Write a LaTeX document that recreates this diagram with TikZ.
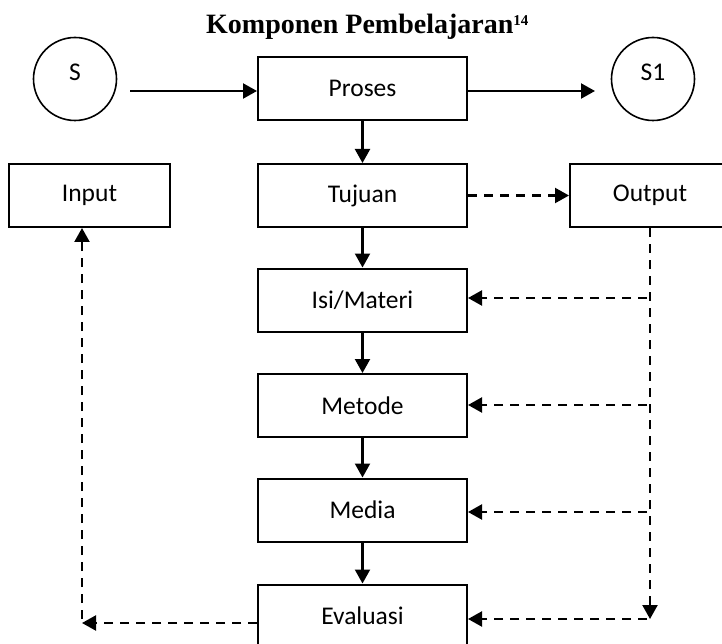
\documentclass[tikz,border=0pt]{standalone}
\usepackage{fontspec}
\setmainfont{Carlito}
\newfontfamily\titlefont{Liberation Serif}
\usetikzlibrary{arrows.meta}
\begin{document}
\begin{tikzpicture}[x=1pt,y=-1pt,
  box/.style={draw, line width=2pt, minimum height=63pt, inner sep=0pt, font=\fontsize{25.5}{30}\selectfont},
  midbox/.style={box, minimum width=209pt},
  circ/.style={draw, circle, line width=1.6pt, minimum size=83pt, inner sep=0pt},
  lbl/.style={font=\fontsize{25.5}{30}\selectfont, inner sep=0pt},
  solidarrow/.style={line width=2.2pt, -{Triangle[length=14pt,width=15pt]}},
  dasharrow/.style={line width=2.2pt, dash pattern=on 9pt off 7pt, -{Triangle[length=14pt,width=15pt]}}]
\useasboundingbox (0,0) rectangle (722,644);
\fill[white] (0,0) rectangle (722,644);

% title
\node[anchor=base west, inner sep=0pt, font=\titlefont\bfseries\fontsize{28}{32}\selectfont] (title) at (206,34)
  {Komponen Pembelajaran\raisebox{8pt}{\fontsize{15}{17}\selectfont 14}};

% circles
\node[circ] (s) at (75,79) {};
\node[lbl] (stext) at (75,72.5) {S};
\node[circ] (s1) at (653,79) {};
\node[lbl] (s1text) at (653,72.5) {S1};

% boxes
\node[midbox] (proses) at (362.5,88.5) {Proses};
\node[midbox] (tujuan) at (362.5,195.5) {Tujuan};
\node[midbox] (isi) at (362.5,300) {Isi/Materi};
\node[midbox] (metode) at (362.5,405.5) {Metode};
\node[midbox] (media) at (362.5,510) {Media};
\node[midbox] (eval) at (362.5,616) {Evaluasi};
\node[box, minimum width=161pt] (input) at (89.5,195.5) {Input};
\node[box, minimum width=160pt] (output) at (650,195.5) {Output};

% solid arrows
\coordinate (sa) at (130,91);
\draw[solidarrow] (sa) -- (sa -| proses.west);
\coordinate (s1a) at (595,91);
\draw[solidarrow] (proses.east |- s1a) -- (s1a);
\draw[solidarrow] (proses) -- (tujuan);
\draw[solidarrow] (tujuan) -- (isi);
\draw[solidarrow] (isi) -- (metode);
\draw[solidarrow] (metode) -- (media);
\draw[solidarrow] (media) -- (eval);

% dashed arrows
\draw[dasharrow] (tujuan.east) -- (output.west);
\coordinate (rb) at (650,619);
\draw[dasharrow] (output.south) -- (rb);
\coordinate (r1) at (647,298);
\coordinate (r2) at (647,405);
\coordinate (r3) at (647,512);
\coordinate (r4) at (647,619);
\draw[dasharrow] (r1) -- (r1 -| isi.east);
\draw[dasharrow] (r2) -- (r2 -| metode.east);
\draw[dasharrow] (r3) -- (r3 -| media.east);
\draw[dasharrow] (r4) -- (r4 -| eval.east);
\coordinate (l1) at (82,623);
\draw[dasharrow] (l1 -| eval.west) -- (l1);
\coordinate (l2) at (82,619);
\draw[dasharrow] (l2) -- (l2 |- input.south);
\end{tikzpicture}
\end{document}
